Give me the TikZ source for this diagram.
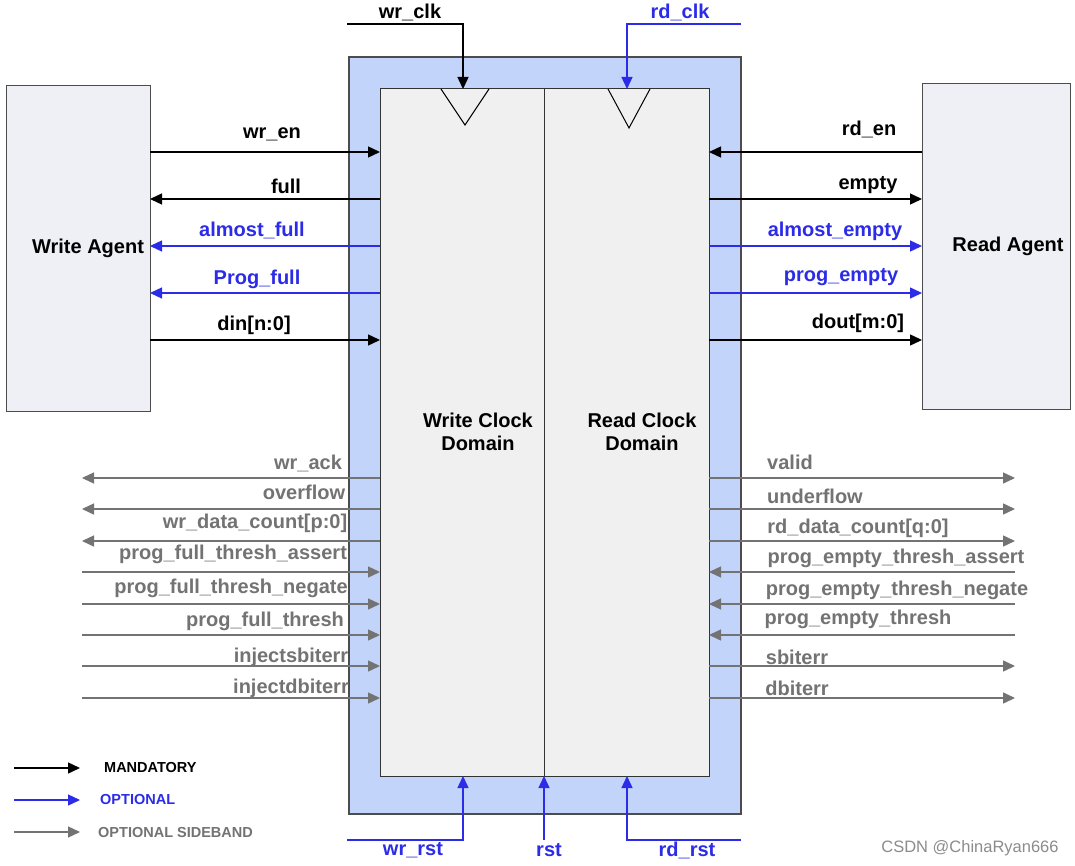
\documentclass[tikz,border=0pt]{standalone}
\usepackage{fontspec}
\setmainfont{Liberation Sans}
\usetikzlibrary{arrows.meta}
\definecolor{ob}{HTML}{C3D4FB}
\definecolor{bl}{HTML}{2B2BE8}
\definecolor{gr}{HTML}{737373}
\definecolor{ag}{HTML}{EEF0F5}
\begin{document}
\begin{tikzpicture}[x=1pt,y=-1pt,
 sig/.style={line width=1.4pt,-{Triangle[length=12pt,width=11pt]}},
 lab/.style={font=\bfseries\fontsize{20}{23}\selectfont,inner sep=0pt},
 leg/.style={font=\bfseries\fontsize{14.5}{16}\selectfont,inner sep=0pt}]
\useasboundingbox (0,0) rectangle (1075,866);
\fill[white] (0,0) rectangle (1075,866);
% main boxes
\node[draw=black!70,fill=ob,line width=1.2pt,minimum width=392pt,minimum height=757pt,inner sep=0pt] (outer) at (545,435.5) {};
\node[draw=black!80,fill=black!6,line width=1pt,minimum width=329pt,minimum height=687pt,inner sep=0pt] (inner) at (544.5,432.5) {};
\draw[line width=1pt,black!80] (544,89) -- (544,776);
\draw[line width=1pt] (441,89) -- (465,125) -- (489,89);
\draw[line width=1pt] (608,89) -- (629,128) -- (650,89);
\node[lab,align=center] (wcd) at (478,432) {Write Clock\\Domain};
\node[lab,align=center] (rcd) at (642,432) {Read Clock\\Domain};
% agents
\node[draw=black!70,fill=ag,line width=1pt,minimum width=144pt,minimum height=325pt,inner sep=0pt] (wa) at (78,248.5) {};
\node[lab] at (88,248) {Write Agent};
\node[draw=black!70,fill=ag,line width=1pt,minimum width=148pt,minimum height=325pt,inner sep=0pt] (ra) at (996,246.5) {};
\node[lab] at (1008,246) {Read Agent};
% clocks
\coordinate (wc0) at (347,24); \coordinate (wc1) at (463,24); \coordinate (wc2) at (463,89);
\draw[sig] (wc0) -- (wc1) -- (wc2);
\node[lab] at (410,12) {wr\_clk};
\coordinate (rc0) at (741,24); \coordinate (rc1) at (627,24); \coordinate (rc2) at (627,89);
\draw[sig,bl] (rc0) -- (rc1) -- (rc2);
\node[lab,bl] at (680,12) {rd\_clk};
% resets
\coordinate (wr0) at (347,840); \coordinate (wr1) at (463,840); \coordinate (wr2) at (463,776);
\draw[sig,bl] (wr0) -- (wr1) -- (wr2);
\node[lab,bl] at (413,850) {wr\_rst};
\coordinate (r0) at (544,840); \coordinate (r2) at (544,776);
\draw[sig,bl] (r0) -- (r2);
\node[lab,bl] at (549,850) {rst};
\coordinate (rr0) at (741,840); \coordinate (rr1) at (627,840); \coordinate (rr2) at (627,776);
\draw[sig,bl] (rr0) -- (rr1) -- (rr2);
\node[lab,bl] at (687,850) {rd\_rst};
% left main signals
\foreach \y/\t/\c/\d/\lx/\ly in {152/wr\_en/black/1/272/134, 199/full/black/0/286/186, 246/almost\_full/bl/0/252/230, 293/Prog\_full/bl/0/257/279, 340/din[n:0]/black/1/254/325}{
 \coordinate (a) at (150,\y); \coordinate (b) at (380,\y);
 \ifnum\d=1 \draw[sig,\c] (a) -- (b); \else \draw[sig,\c] (b) -- (a); \fi
 \node[lab,text=\c] at (\lx,\ly) {\t};}
\foreach \y/\t/\c/\d/\lx/\ly in {152/rd\_en/black/0/869/129, 199/empty/black/1/868/185, 246/almost\_empty/bl/1/835/231, 293/prog\_empty/bl/1/841/277, 340/dout[m:0]/black/1/858/323}{
 \coordinate (a) at (709,\y); \coordinate (b) at (922,\y);
 \ifnum\d=1 \draw[sig,\c] (a) -- (b); \else \draw[sig,\c] (b) -- (a); \fi
 \node[lab,text=\c] at (\lx,\ly) {\t};}
% sideband
\foreach \y/\t/\d/\lx/\ly in {478/wr\_ack/0/308/463, 509/overflow/0/304/492, 541/wr\_data\_count[p:0]/0/255/523, 572/prog\_full\_thresh\_assert/1/233/554, 604/prog\_full\_thresh\_negate/1/231/588, 635/prog\_full\_thresh/1/265/621, 666/injectsbiterr/1/291/657, 698/injectdbiterr/1/291/688}{
 \coordinate (a) at (82,\y); \coordinate (b) at (380,\y);
 \ifnum\d=1 \draw[sig,gr] (a) -- (b); \else \draw[sig,gr] (b) -- (a); \fi
 \node[lab,text=gr] at (\lx,\ly) {\t};}
\foreach \y/\t/\d/\lx/\ly in {478/valid/1/790/462, 509/underflow/1/815/496, 541/rd\_data\_count[q:0]/1/858/528, 572/prog\_empty\_thresh\_assert/0/896/558, 604/prog\_empty\_thresh\_negate/0/897/590, 635/prog\_empty\_thresh/0/858/619, 666/sbiterr/1/797/657, 698/dbiterr/1/797/688}{
 \coordinate (a) at (709,\y); \coordinate (b) at (1015,\y);
 \ifnum\d=1 \draw[sig,gr] (a) -- (b); \else \draw[sig,gr] (b) -- (a); \fi
 \node[lab,text=gr] at (\lx,\ly) {\t};}
% legend
\coordinate (l1a) at (14,768); \coordinate (l1b) at (80,768);
\draw[sig] (l1a) -- (l1b); \node[leg,anchor=west] at (104,768) {MANDATORY};
\coordinate (l2a) at (14,800); \coordinate (l2b) at (80,800);
\draw[sig,bl] (l2a) -- (l2b); \node[leg,anchor=west,text=bl] at (100,800) {OPTIONAL};
\coordinate (l3a) at (14,832); \coordinate (l3b) at (80,832);
\draw[sig,gr] (l3a) -- (l3b); \node[leg,anchor=west,text=gr] at (98,833) {OPTIONAL SIDEBAND};
\node[font=\fontsize{16.5}{18}\selectfont,text=black!45,inner sep=0pt] at (970,848) {CSDN @ChinaRyan666};
\end{tikzpicture}
\end{document}
